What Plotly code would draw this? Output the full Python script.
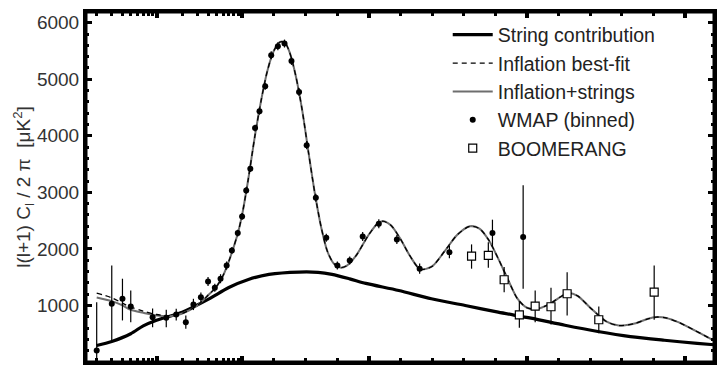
import numpy as np
import plotly.graph_objects as go

# ---------------- data ----------------
# String contribution
string_l = [2, 3, 5, 7, 10, 20, 40, 70, 120, 185, 280, 340, 384, 440, 491, 595, 698, 805, 909, 1013, 1120, 1224, 1327, 1434, 1538, 1591]
string_v = [292, 363, 500, 640, 740, 881, 1106, 1318, 1460, 1549, 1590, 1585, 1549, 1470, 1390, 1265, 1118, 1000, 881, 775, 650, 540, 450, 385, 330, 305]

# Inflation best-fit (dashed)
theory_l = [2, 3, 4, 5, 7, 10, 15, 20, 30, 40, 50, 60, 70, 80, 90, 100, 120, 140, 160, 180, 200, 220, 235, 250, 270, 290, 310, 330, 350, 370, 390, 410, 430, 460, 500, 530, 545, 570, 600, 630, 663, 700, 740, 780, 820, 850, 880, 910, 940, 970, 1000, 1030, 1070, 1100, 1130, 1160, 1200, 1250, 1290, 1340, 1380, 1410, 1440, 1480, 1530, 1560, 1591]
infl_v = [1218, 1136, 1040, 970, 900, 840, 820, 860, 1000, 1180, 1330, 1530, 1780, 2040, 2300, 2600, 3250, 3980, 4620, 5150, 5500, 5660, 5650, 5480, 5050, 4450, 3700, 2980, 2380, 1950, 1740, 1670, 1700, 1880, 2250, 2460, 2490, 2420, 2180, 1880, 1640, 1690, 1960, 2250, 2400, 2360, 2150, 1820, 1460, 1120, 960, 940, 1020, 1130, 1220, 1170, 960, 720, 645, 680, 760, 795, 780, 700, 560, 470, 380]
# Inflation + strings (thin grey)
both_v = [1142, 1076, 1000, 923, 870, 823, 812, 858, 1000, 1180, 1330, 1530, 1780, 2040, 2300, 2600, 3250, 3980, 4620, 5150, 5500, 5660, 5650, 5480, 5050, 4450, 3700, 2980, 2380, 1950, 1740, 1670, 1700, 1880, 2250, 2460, 2490, 2420, 2180, 1880, 1640, 1690, 1960, 2250, 2400, 2360, 2150, 1820, 1460, 1120, 960, 940, 1020, 1130, 1220, 1170, 960, 720, 645, 680, 760, 795, 780, 700, 560, 470, 380]

# WMAP binned
wmap_l = [2, 3, 4, 5, 9, 13, 17, 22, 27, 33, 40, 48, 56, 66, 76, 89, 100, 113, 126, 141, 155, 173, 192, 213, 234, 256, 280, 304, 333, 366, 401, 440, 481, 532, 589, 661, 755, 891, 988]
wmap_v = [204, 1030, 1118, 982, 793, 782, 841, 704, 1018, 1147, 1425, 1313, 1473, 1708, 1973, 2280, 2575, 3035, 3419, 4138, 4434, 4876, 5425, 5584, 5632, 5324, 4775, 3832, 2906, 2198, 1708, 1796, 2218, 2446, 2168, 1650, 1943, 2280, 2209]
wmap_up = [854, 678, 355, 283, 154, 142, 102, 119, 100, 80, 80, 70, 80, 70, 60, 60, 60, 60, 60, 60, 60, 60, 70, 70, 70, 70, 70, 70, 70, 70, 70, 70, 80, 80, 80, 90, 110, 237, 915]
wmap_dn = [204, 650, 383, 278, 177, 166, 107, 116, 100, 80, 80, 70, 80, 70, 60, 60, 60, 60, 60, 60, 60, 60, 70, 70, 70, 70, 70, 70, 70, 70, 70, 70, 80, 80, 80, 90, 110, 248, 913]

# BOOMERANG
boom_l = [825, 878, 928, 976, 1026, 1076, 1127, 1227, 1402]
boom_v = [1873, 1885, 1455, 835, 988, 977, 1207, 747, 1235]
boom_up = [207, 235, 223, 241, 277, 336, 382, 235, 473]
boom_dn = [223, 218, 220, 230, 284, 313, 384, 237, 488]

# axis ticks (multipole l)
major_l = [10, 100, 500, 1000, 1500]
minor_l = [2, 3, 4, 5, 6, 7, 8, 9, 20, 30, 40, 50, 60, 70, 80, 90, 200, 300, 400,
           600, 700, 800, 900, 1100, 1200, 1300, 1400]
l_min, l_max = 1.5, 1591
y_major = [1000, 2000, 3000, 4000, 5000, 6000]

# ---------------- hybrid axis: log for l<=100, linear above -----------
K = 2.704  # length of a decade in units of 100 (linear part)


def T(l):
    l = np.asarray(l, dtype=float)
    return np.where(l <= 100, K * (np.log10(l) - 2.0), (l - 100.0) / 100.0)


xr = [float(T(l_min)), float(T(l_max))]

fig = go.Figure()

fig.add_trace(go.Scatter(x=T(string_l), y=string_v, mode="lines", name="String contribution",
                         legendgroup="a", legendrank=1,
                         line=dict(color="black", width=3.2, shape="spline", smoothing=0.8)))
fig.add_trace(go.Scatter(x=T(theory_l), y=both_v, mode="lines", name="Inflation+strings",
                         legendgroup="c", legendrank=3,
                         line=dict(color="#6e6e6e", width=2, shape="spline", smoothing=0.8)))
fig.add_trace(go.Scatter(x=T(theory_l), y=infl_v, mode="lines", name="Inflation best-fit",
                         legendgroup="b", legendrank=2,
                         line=dict(color="black", width=1.3, dash="5px,4px", shape="spline", smoothing=0.8)))
fig.add_trace(go.Scatter(x=T(wmap_l), y=wmap_v, mode="markers", name="WMAP (binned)",
                         legendgroup="d", legendrank=4,
                         marker=dict(symbol="circle", size=6, color="black"),
                         error_y=dict(type="data", symmetric=False, array=wmap_up, arrayminus=wmap_dn,
                                      color="black", thickness=1.2, width=0)))
fig.add_trace(go.Scatter(x=T(boom_l), y=boom_v, mode="markers", name="BOOMERANG",
                         legendgroup="e", legendrank=5,
                         marker=dict(symbol="square", size=8, color="white",
                                     line=dict(color="black", width=1.2)),
                         error_y=dict(type="data", symmetric=False, array=boom_up, arrayminus=boom_dn,
                                      color="black", thickness=1.2, width=0)))

tickfont = dict(family="Liberation Sans, Arial, sans-serif", size=19, color="#333333")

fig.update_layout(
    width=717, height=371,
    margin=dict(l=86, r=0, t=12, b=9),
    paper_bgcolor="white", plot_bgcolor="white",
    showlegend=True,
    legend=dict(x=0.576, y=0.99, xanchor="left", yanchor="top",
                font=dict(family="Liberation Sans, Arial, sans-serif", size=19.5, color="#222222"),
                bgcolor="rgba(0,0,0,0)", itemwidth=40, tracegroupgap=0, traceorder="grouped"),
    xaxis=dict(range=xr, showgrid=False, zeroline=False,
               showline=True, linecolor="black", linewidth=3, mirror="allticks",
               tickmode="array", tickvals=list(T(major_l)), ticktext=[str(v) for v in major_l],
               ticks="inside", ticklen=6, tickwidth=3.5, tickcolor="black",
               showticklabels=False,
               minor=dict(tickmode="array", tickvals=list(T(minor_l)), ticks="inside",
                          ticklen=4, tickwidth=2.5, tickcolor="black", showgrid=False)),
    yaxis=dict(range=[0, 6190], showgrid=False, zeroline=False,
               showline=True, linecolor="black", linewidth=3, mirror="allticks",
               tickmode="array", tickvals=y_major, ticktext=[str(v) for v in y_major],
               ticks="inside", ticklen=6, tickwidth=3, tickcolor="black",
               tickfont=tickfont,
               minor=dict(tickmode="linear", tick0=0, dtick=200, ticks="inside",
                          ticklen=3, tickwidth=2.5, tickcolor="black", showgrid=False),
               title=dict(text="l(l+1) C<sub>l</sub> / 2 \u03c0  [\u03bcK<sup>2</sup>]",
                          font=dict(family="Liberation Sans, Arial, sans-serif", size=19, color="#333333"),
                          standoff=2)),
    shapes=[dict(type="rect", xref="paper", yref="paper", x0=0, x1=1, y0=0, y1=1,
                 line=dict(color="black", width=3), fillcolor="rgba(0,0,0,0)", layer="above")],
)

fig.write_html("out.html")
